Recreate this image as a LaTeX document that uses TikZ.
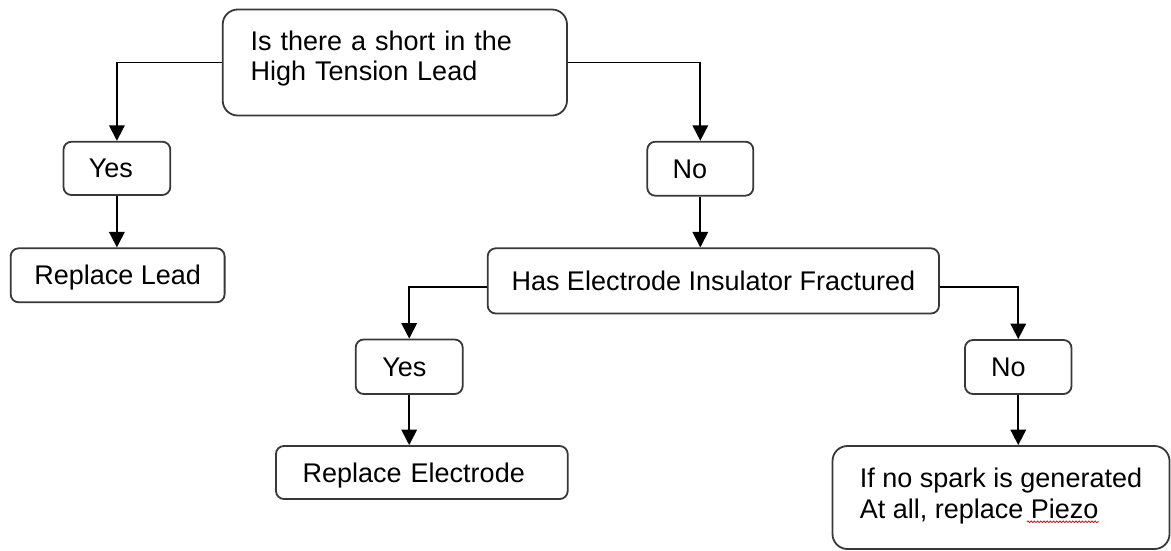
\documentclass[tikz,border=0pt]{standalone}
\usepackage{fontspec}
\setmainfont{Liberation Sans}
\usetikzlibrary{arrows.meta,decorations.pathmorphing}
\begin{document}
\begin{tikzpicture}[x=1pt,y=-1pt,
  box/.style={draw=black!78, line width=1.8pt, rounded corners=8pt, inner sep=0pt, align=left,
     font=\fontsize{27pt}{30.5pt}\selectfont, text height=19pt, text depth=0pt},
  bigbox/.style={box, rounded corners=15pt},
  conn/.style={draw=black, line width=1.8pt, -{Triangle[width=15.5pt,length=15.5pt]}}]
\useasboundingbox (0,0) rectangle (1171,550);
% nodes
\node[bigbox, minimum width=344.3pt, minimum height=106pt, text width=288.3pt, text depth=44pt]
  (q1) at (394.85,62.5) {Is there a short in the\\High Tension Lead};
\node[box, minimum width=106.8pt, minimum height=53.3pt, text width=56.2pt]
  (y1) at (116.9,168.35) {Yes};
\node[box, minimum width=213.9pt, minimum height=54pt]
  (rl) at (117.65,275.3) {Replace Lead};
\node[box, minimum width=106pt, minimum height=54pt, text width=55.2pt]
  (n1) at (700.3,168.7) {No};
\node[box, minimum width=451.3pt, minimum height=65.2pt]
  (has) at (713.35,280.9) {Has Electrode Insulator Fractured};
\node[box, minimum width=107pt, minimum height=54.5pt, text width=53.6pt]
  (y2) at (409.2,366.75) {Yes};
\node[box, minimum width=291.7pt, minimum height=53pt, text width=238.3pt]
  (re) at (421.85,472.5) {Replace Electrode};
\node[box, minimum width=106.5pt, minimum height=54pt, text width=54.5pt]
  (n2) at (1018.25,367) {No};
\node[bigbox, minimum width=337pt, minimum height=103pt, text height=49.5pt, text depth=8.4pt]
  (fin) at (1001,497.5) {If no spark is generated\\At all, replace Piezo};
% connectors
\draw[conn] (q1.west) -| (y1.north);
\draw[conn] (q1.east) -| (n1.north);
\draw[conn] (y1.south) -- (y1.south |- rl.north);
\draw[conn] (n1.south) -- (n1.south |- has.north);
\draw[conn] ([yshift=-6.4pt]has.west) -| (y2.north);
\draw[conn] ([yshift=-6.4pt]has.east) -| (n2.north);
\draw[conn] (y2.south) -- (y2.south |- re.north);
\draw[conn] (n2.south) -- (n2.south |- fin.north);
% spell-check squiggle under "Piezo"
\draw[red!85!black, line width=0.7pt, decorate,
  decoration={snake, amplitude=0.9pt, segment length=3.2pt}]
  (1027,521.8) -- (1099,521.8);
\end{tikzpicture}
\end{document}
